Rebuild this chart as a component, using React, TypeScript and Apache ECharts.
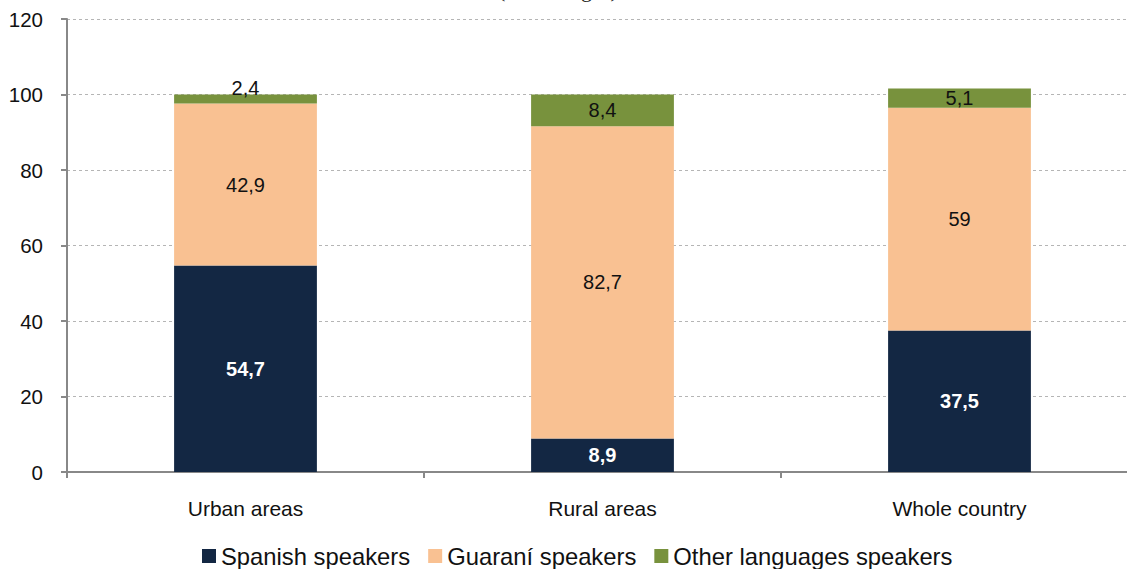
import React, { useEffect, useRef } from "react";
import * as echarts from "echarts";

const categories = ["Urban areas", "Rural areas", "Whole country"];
const seriesNames = ["Spanish speakers", "Guaraní speakers", "Other languages speakers"];
const spanish = [54.7, 8.9, 37.5];
const guarani = [42.9, 82.7, 59];
const other = [2.4, 8.4, 5.1];
const yTicks = [0, 20, 40, 60, 80, 100, 120];
const titleText = "(Percentages)";

const colors = ["#132743", "#f9c192", "#78923d"];
const FONT = "'Liberation Sans', Arial, Helvetica, sans-serif";

const fmt = (v: number) => String(v).replace(".", ",");

export default function App() {
  const ref = useRef<HTMLDivElement>(null);
  useEffect(() => {
    if (!ref.current) return;
    const chart = echarts.init(ref.current, undefined, { renderer: "svg" });
    const labelBase = {
      show: true,
      position: "inside",
      fontFamily: FONT,
      fontSize: 20,
      color: "#111",
      formatter: (p: any) => fmt(p.value as number),
    };
    chart.setOption({
      animation: false,
      textStyle: { fontFamily: FONT },
      graphic: [
        {
          type: "text",
          left: 498,
          top: -22,
          style: {
            text: titleText,
            font: "22px 'Liberation Serif', 'Times New Roman', serif",
            fill: "#222",
          },
        },
      ],
      grid: { left: 67, right: 2, top: 19, bottom: 97, containLabel: false },
      legend: {
        data: seriesNames,
        left: 197,
        top: 539,
        itemWidth: 14,
        itemHeight: 14,
        itemGap: 18,
        icon: "rect",
        textStyle: { fontFamily: FONT, fontSize: 23.8, color: "#111" },
      },
      xAxis: {
        type: "category",
        data: categories,
        axisLine: { lineStyle: { color: "#888", width: 2 } },
        axisTick: { show: true, length: 6, lineStyle: { color: "#888", width: 2 } },
        axisLabel: { fontFamily: FONT, fontSize: 21, color: "#111", margin: 26 },
      },
      yAxis: {
        type: "value",
        min: yTicks[0],
        max: yTicks[yTicks.length - 1],
        interval: 20,
        axisLine: { show: true, lineStyle: { color: "#888", width: 2 } },
        axisTick: { show: true, length: 6, lineStyle: { color: "#888", width: 2 } },
        axisLabel: { fontFamily: FONT, fontSize: 20.5, color: "#111", margin: 24 },
        splitLine: { show: true, lineStyle: { color: "#b5b5b5", type: [3, 3], width: 1 } },
      },
      series: [
        {
          name: seriesNames[0],
          type: "bar",
          stack: "total",
          barWidth: "40%",
          itemStyle: { color: colors[0] },
          label: { ...labelBase, color: "#fff", fontWeight: "bold" },
          data: spanish,
        },
        {
          name: seriesNames[1],
          type: "bar",
          stack: "total",
          itemStyle: { color: colors[1] },
          label: labelBase,
          data: guarani,
        },
        {
          name: seriesNames[2],
          type: "bar",
          stack: "total",
          itemStyle: { color: colors[2] },
          label: labelBase,
          data: other.map((v, i) =>
            i === 0 ? { value: v, label: { offset: [0, -11] } } : v
          ),
        },
      ],
    });
    return () => chart.dispose();
  }, []);
  return (
    <div
      style={{
        position: "absolute",
        left: 0,
        top: 0,
        width: 1127,
        height: 569,
        overflow: "hidden",
        background: "#fff",
      }}
    >
      <div ref={ref} style={{ position: "absolute", left: 0, top: 0, width: 1140, height: 569 }} />
    </div>
  );
}
